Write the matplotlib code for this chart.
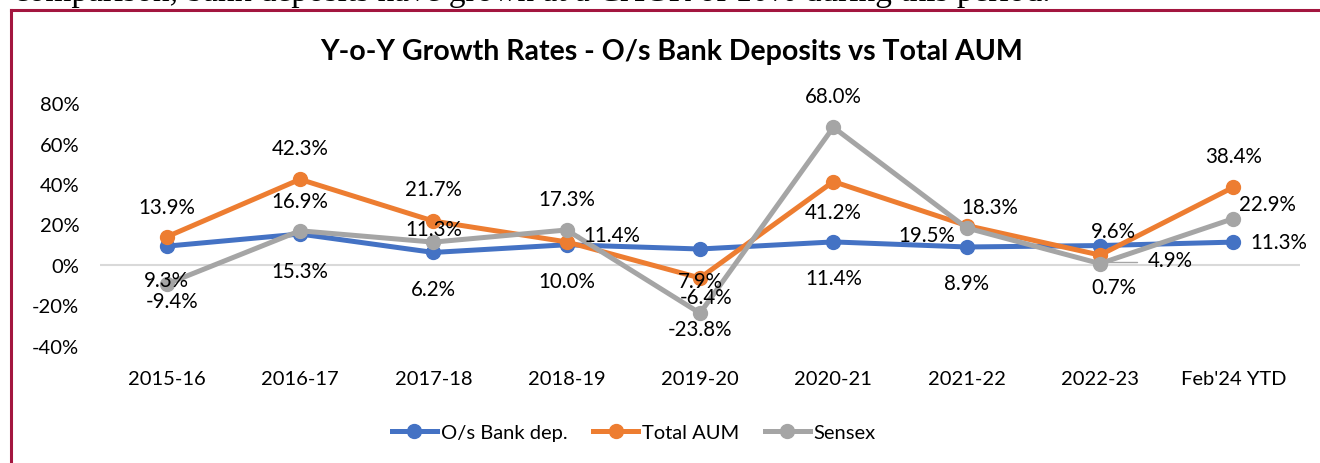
import matplotlib
matplotlib.use("Agg")
import matplotlib.pyplot as plt
from matplotlib.lines import Line2D

categories = ["2015-16", "2016-17", "2017-18", "2018-19", "2019-20",
              "2020-21", "2021-22", "2022-23", "Feb'24 YTD"]
bank_dep = [9.3, 15.3, 6.2, 10.0, 7.9, 11.4, 8.9, 9.6, 11.3]
total_aum = [13.9, 42.3, 21.7, 11.4, -6.4, 41.2, 19.5, 4.9, 38.4]
sensex = [-9.4, 16.9, 11.3, 17.3, -23.8, 68.0, 18.3, 0.7, 22.9]
series_names = ["O/s Bank dep.", "Total AUM", "Sensex"]
yticks = [-40, -20, 0, 20, 40, 60, 80]

title = "Y-o-Y Growth Rates - O/s Bank Deposits vs Total AUM"
top_text = "comparison, bank deposits have grown at a CAGR of 10% during this period."

colors = ["#4472C4", "#ED7D31", "#A5A5A5"]
frame_color = "#A3163F"

# label offsets in pixels (dx, dy) relative to each point
off_bank = [(0, -34), (0, -37), (0, -37), (0, -36), (0, -32), (0, -36), (0, -36), (13, 15), (45, 0)]
off_aum = [(0, 30), (0, 31), (0, 32), (45, 7), (6, -19), (0, -30), (-40, -9), (70, -5), (0, 31)]
off_sensex = [(5, -17), (0, 30), (0, 13), (0, 31), (0, -16), (0, 31), (23, 21), (14, -23), (34, 15)]
leaders = {1: [3, 7]}  # series index -> points with leader lines

W, H = 1320, 464
fig = plt.figure(figsize=(W / 100, H / 100), dpi=100)
fs = 14.8
font = "Lato"

ax = fig.add_axes([100 / W, 1 - 347 / H, 1200 / W, (347 - 104) / H])
x = list(range(len(categories)))
all_series = [bank_dep, total_aum, sensex]
all_offs = [off_bank, off_aum, off_sensex]

for k in [0, 1, 2]:
    ax.plot(x, all_series[k], color=colors[k], lw=3.6, marker="o", ms=10,
            solid_capstyle="round", zorder=3 + k)

ax.axhline(0, color="#D9D9D9", lw=1.5, zorder=1)
ax.set_xlim(-0.5, len(categories) - 0.5)
ax.set_ylim(-40, 80)
ax.set_yticks(yticks)
ax.set_yticklabels([f"{v}%" for v in yticks], fontsize=14.5, family=font)
ax.set_xticks(x)
ax.set_xticklabels(categories, fontsize=14.5, family=font)
ax.tick_params(axis="both", length=0)
ax.tick_params(axis="y", pad=15)
ax.tick_params(axis="x", pad=17)
for s in ax.spines.values():
    s.set_visible(False)

for k in [0, 1, 2]:
    vals = all_series[k]
    for i, v in enumerate(vals):
        dx, dy = all_offs[k][i]
        ax.annotate(f"{v:.1f}%", (i, v), xytext=(dx, dy), textcoords="offset pixels",
                    ha="center", va="center", fontsize=fs, family=font, color="#000000",
                    zorder=10)

# leader lines for labels placed to the right
for i in leaders[1]:
    v = total_aum[i]
    dx, dy = off_aum[i]
    ax.annotate("", (i, v), xytext=(dx - 33, dy - 2 if i == 7 else dy), textcoords="offset pixels",
                arrowprops=dict(arrowstyle="-", color="#A5A5A5", lw=1.0,
                                shrinkA=0, shrinkB=6, connectionstyle="angle,angleA=0,angleB=60,rad=0"))

fig.text(672 / W, 1 - 52 / H, title, ha="center", va="center", fontsize=20.5,
         fontweight="bold", family=font)

handles = [Line2D([], [], color=colors[k], lw=3.6, marker="o", ms=10) for k in range(3)]
fig.legend(handles, series_names, loc="center", bbox_to_anchor=(634 / W, 1 - 433 / H),
           ncol=3, frameon=False, prop={"family": font, "size": 14.5},
           handlelength=2.2, handletextpad=0.2, columnspacing=1.3)

# frame lines
fig.add_artist(Line2D([11 / W, 11 / W], [0, 1 - 11 / H], color=frame_color, lw=2.2,
                      transform=fig.transFigure))
fig.add_artist(Line2D([11 / W, 1], [1 - 11 / H, 1 - 11 / H], color=frame_color, lw=2.2,
                      transform=fig.transFigure))

fig.text(14 / W, 1 - 1.5 / H, top_text, ha="left", va="baseline", fontsize=24,
         family="Liberation Serif")

fig.savefig("out.png", dpi=100)
